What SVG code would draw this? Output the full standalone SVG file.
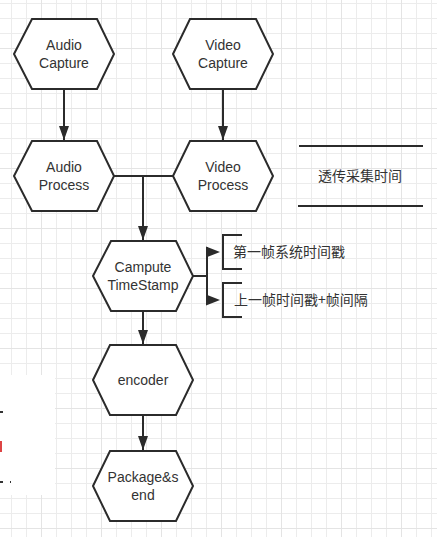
<svg xmlns="http://www.w3.org/2000/svg" width="437" height="537" viewBox="0 0 437 537">
<style>
.hex{fill:#fff;stroke:#2b2b2b;stroke-width:2;stroke-linejoin:miter}
.t{font-family:"Liberation Sans","Noto Sans CJK SC",Arial,sans-serif;font-size:14px;fill:#333;text-anchor:middle}
.c{font-family:"Noto Sans CJK SC","Liberation Sans",sans-serif;font-size:14px;fill:#333}
.ln{stroke:#2b2b2b;stroke-width:2;fill:none}
.ah{fill:#2b2b2b}
</style>
<defs>
<pattern id="g" patternUnits="userSpaceOnUse" x="11" y="3" width="15" height="15">
<path d="M0.5 0V15M0 0.5H15" stroke="#ececec" stroke-width="1" fill="none"/>
</pattern>
<pattern id="G" patternUnits="userSpaceOnUse" x="41" y="48" width="60" height="60">
<path d="M0.5 0V60M0 0.5H60" stroke="#e4e4e4" stroke-width="1" fill="none"/>
</pattern>
<marker id="arr" viewBox="0 0 14 10" refX="14" refY="5" markerWidth="14" markerHeight="10" markerUnits="userSpaceOnUse" orient="auto">
<path d="M0 0L14 5L0 10Z" class="ah"/>
</marker>
</defs>
<rect width="437" height="537" fill="#fff"/>
<rect width="437" height="537" fill="url(#g)"/>
<rect width="437" height="537" fill="url(#G)"/>
<rect x="0" y="375" width="55" height="120" fill="#fff"/>
<rect x="0" y="411" width="3" height="2" fill="#333"/>
<rect x="0" y="441" width="2" height="11" fill="#d44"/>
<rect x="0" y="481" width="3" height="2" fill="#333"/>
<rect x="10" y="481" width="1" height="2" fill="#333"/>

<g id="connectors">
<line class="ln" x1="64" y1="89" x2="64" y2="140" marker-end="url(#arr)"/>
<line class="ln" x1="223" y1="89" x2="223" y2="140" marker-end="url(#arr)"/>
<line class="ln" x1="114" y1="176" x2="173" y2="176"/>
<line class="ln" x1="143" y1="176" x2="143" y2="240" marker-end="url(#arr)"/>
<line class="ln" x1="143" y1="311" x2="143" y2="344" marker-end="url(#arr)"/>
<line class="ln" x1="143" y1="415" x2="143" y2="450" marker-end="url(#arr)"/>
<line class="ln" x1="193" y1="276" x2="207" y2="276"/>
<line class="ln" x1="207" y1="247" x2="207" y2="303"/>
<path class="ah" d="M206 246.5L220 252L206 257.5Z"/>
<path class="ah" d="M206 294.5L220 300L206 305.5Z"/>
</g>

<g id="audio-capture">
<polygon class="hex" points="14,54 32,19 97,19 114,54 97,89 32,89"/>
<text class="t" x="64" y="50">Audio</text>
<text class="t" x="64" y="68">Capture</text>
</g>
<g id="video-capture">
<polygon class="hex" points="173,54 190,19 256,19 273,54 256,89 190,89"/>
<text class="t" x="223" y="50">Video</text>
<text class="t" x="223" y="68">Capture</text>
</g>
<g id="audio-process">
<polygon class="hex" points="14,176 32,141 97,141 114,176 97,211 32,211"/>
<text class="t" x="64" y="172">Audio</text>
<text class="t" x="64" y="190">Process</text>
</g>
<g id="video-process">
<polygon class="hex" points="173,176 190,141 256,141 273,176 256,211 190,211"/>
<text class="t" x="223" y="172">Video</text>
<text class="t" x="223" y="190">Process</text>
</g>
<g id="passthrough-note">
<line class="ln" x1="299" y1="146" x2="423" y2="146"/>
<line class="ln" x1="298" y1="206" x2="423" y2="206"/>
<text class="c" x="360" y="181" text-anchor="middle">透传采集时间</text>
</g>
<g id="compute-timestamp">
<polygon class="hex" points="93,276 111,241 176,241 193,276 176,311 111,311"/>
<text class="t" x="143" y="272">Campute</text>
<text class="t" x="143" y="290">TimeStamp</text>
</g>
<g id="note-first">
<path class="ln" d="M242 235H223V269H242"/>
<text class="c" x="233" y="257">第一帧系统时间戳</text>
</g>
<g id="note-next">
<path class="ln" d="M242 283H223V317H242"/>
<text class="c" x="234" y="305">上一帧时间戳+帧间隔</text>
</g>
<g id="encoder">
<polygon class="hex" points="93,380 110,345 176,345 193,380 176,415 110,415"/>
<text class="t" x="143" y="385">encoder</text>
</g>
<g id="package-send">
<polygon class="hex" points="93,486 110,451 176,451 193,486 176,521 110,521"/>
<text class="t" x="143" y="482">Package&amp;s</text>
<text class="t" x="143" y="500">end</text>
</g>
</svg>
